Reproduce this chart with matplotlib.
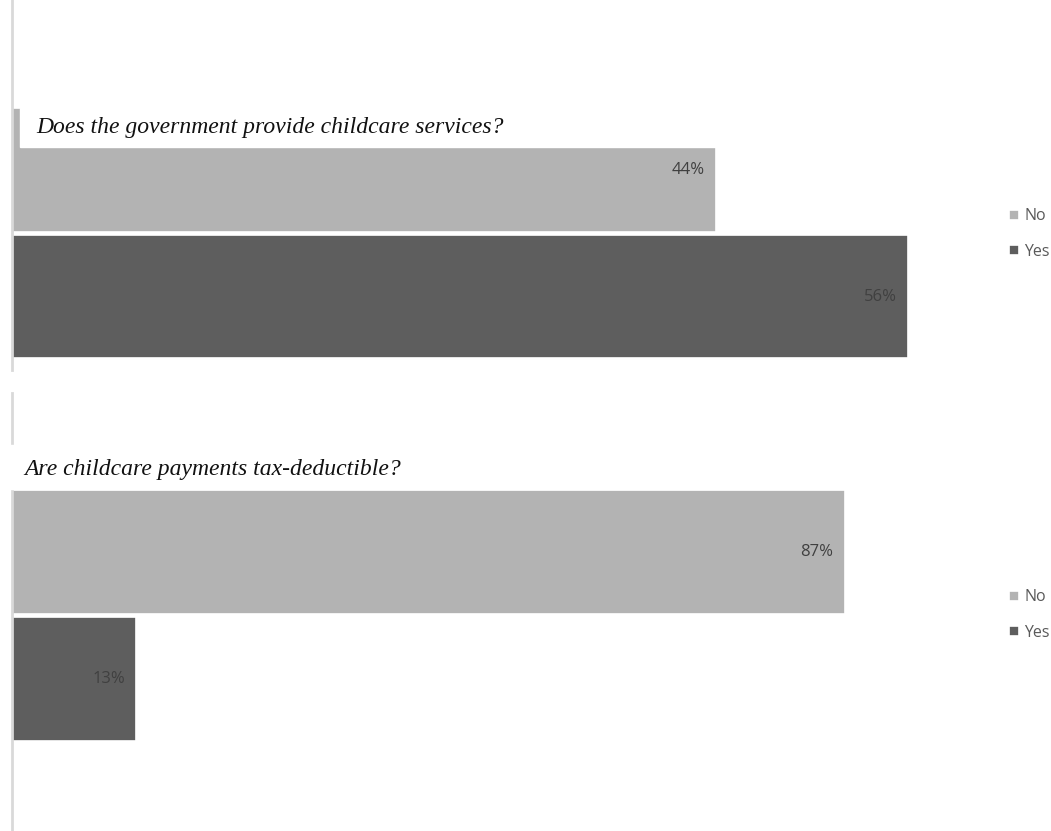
import matplotlib.pyplot as plt
from matplotlib.patches import Rectangle

plt.switch_backend("agg")

# survey answers, share of respondents (%)
answers = ["No", "Yes"]
services_pct = [44, 56]
tax_pct = [87, 13]
questions = [
    "Does the government provide childcare services?",
    "Are childcare payments tax-deductible?",
]

colors = {"No": "#b3b3b3", "Yes": "#5e5e5e"}
label_color = "#404040"
axis_color = "#d9d9d9"

W, H = 1051, 831
fig = plt.figure(figsize=(W / 100, H / 100), dpi=100)


def px_box(x0, y0, x1, y1):
    # pixel box (top-left origin) -> figure fraction rect
    return [x0 / W, 1 - y1 / H, (x1 - x0) / W, (y1 - y0) / H]


def draw_panel(rect, values, xmax, ylim, legend_y):
    ax = fig.add_axes(rect)
    ypos = [1, 0]  # No on top, Yes below
    bars = []
    for ans, v, y in zip(answers, values, ypos):
        b = ax.barh(y, v, height=0.975, color=colors[ans],
                    edgecolor="white", linewidth=1.2, label=ans)
        bars.append(b)
        ax.annotate(f"{v}%", (v, y), xytext=(-8, 0),
                    textcoords="offset points", ha="right", va="center",
                    fontsize=12, color=label_color, family="Open Sans")
    ax.set_xlim(0, xmax)
    ax.set_ylim(*ylim)
    ax.set_xticks([])
    ax.set_yticks([])
    for s in ("top", "right", "bottom"):
        ax.spines[s].set_visible(False)
    ax.spines["left"].set_color(axis_color)
    ax.spines["left"].set_linewidth(2)
    leg = fig.legend(handles=[b[0] for b in bars], labels=answers,
                     loc="center left",
                     bbox_to_anchor=(1009 / W, 1 - legend_y / H),
                     frameon=False, borderpad=0, borderaxespad=0,
                     handlelength=0.6, handleheight=0.6,
                     handletextpad=0.35, labelspacing=1.2,
                     prop={"family": "Open Sans", "size": 11.5})
    for t in leg.get_texts():
        t.set_color("#595959")
    return ax


# top panel: 16 px per percentage point, 0 at x=12
draw_panel(px_box(12, 0, 1000, 370), services_pct, 988 / 16.0,
           (-0.58, 2.34), 234)
# bottom panel: ~9.57 px per percentage point
draw_panel(px_box(12, 393, 1000, 831), tax_pct, 988 / 9.57,
           (-1.2, 2.25), 615)

# question titles sit on white boxes over the bars / axis line
fig.add_artist(Rectangle((20 / W, 1 - 147 / H), 980 / W, 39 / H,
                         transform=fig.transFigure, color="white",
                         zorder=5))
fig.text(36 / W, 1 - 128 / H, questions[0], ha="left", va="center",
         fontsize=17, style="italic", family="Liberation Serif",
         color="#111111", zorder=6)

fig.add_artist(Rectangle((4 / W, 1 - 489 / H), 996 / W, 44 / H,
                         transform=fig.transFigure, color="white",
                         zorder=5))
fig.text(24 / W, 1 - 470 / H, questions[1], ha="left", va="center",
         fontsize=17, style="italic", family="Liberation Serif",
         color="#111111", zorder=6)

fig.savefig("out.png", dpi=100)
plt.close(fig)
